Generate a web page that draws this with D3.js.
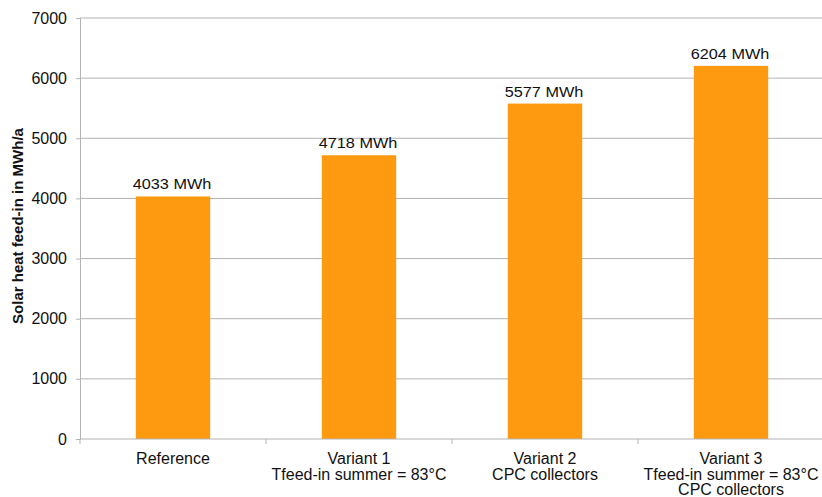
<!DOCTYPE html>
<html>
<head>
<meta charset="utf-8">
<script src="https://cdn.jsdelivr.net/npm/d3@7"></script>
<style>
  html, body { margin: 0; padding: 0; background: #fff; }
  svg { display: block; font-family: "Liberation Sans", Arial, sans-serif; }
</style>
</head>
<body>
<svg id="chart" width="822" height="497"></svg>
<script>
// Solar heat feed-in per scenario (MWh/a)
const categories = ["Reference", "Variant 1", "Variant 2", "Variant 3"];
const categoryLines = [
  ["Reference"],
  ["Variant 1", "Tfeed-in summer = 83°C"],
  ["Variant 2", "CPC collectors"],
  ["Variant 3", "Tfeed-in summer = 83°C", "CPC collectors"]
];
const values = [4033, 4718, 5577, 6204];
const yTicks = [0, 1000, 2000, 3000, 4000, 5000, 6000, 7000];
const yTitle = "Solar heat feed-in in MWh/a";
const unit = "MWh";

const svg = d3.select("#chart");
const plot = { left: 80, right: 824, top: 18, bottom: 439 };

const x = d3.scaleBand().domain(categories).range([plot.left, plot.right]).paddingInner(0.6).paddingOuter(0.3);
const xOuter = d3.scaleBand().domain(categories).range([plot.left, plot.right]);
const y = d3.scaleLinear().domain([0, 7000]).range([plot.bottom, plot.top]);

// horizontal gridlines
svg.append("g")
  .selectAll("line")
  .data(yTicks.filter(d => d > 0))
  .join("line")
  .attr("x1", plot.left).attr("x2", plot.right)
  .attr("y1", d => y(d)).attr("y2", d => y(d))
  .attr("stroke", "#b3b3b3").attr("stroke-width", 1);

// bars
svg.append("g")
  .selectAll("rect")
  .data(values)
  .join("rect")
  .attr("x", (d, i) => x(categories[i]))
  .attr("width", x.bandwidth())
  .attr("y", d => y(d))
  .attr("height", d => y(0) - y(d))
  .attr("fill", "#fd9a0f");

// value labels (slightly widened type)
svg.append("g")
  .selectAll("text")
  .data(values)
  .join("text")
  .attr("transform", (d, i) => `translate(${x(categories[i]) + x.bandwidth() / 2 - 1},${y(d) - 7}) scale(1.16,1)`)
  .attr("text-anchor", "middle")
  .attr("font-size", 14)
  .attr("fill", "#111")
  .text(d => `${d} ${unit}`);

// y axis
const yAxis = svg.append("g")
  .attr("transform", `translate(${plot.left},0)`)
  .call(d3.axisLeft(y).tickValues(yTicks).tickSize(4).tickPadding(9).tickFormat(d3.format("d")));
yAxis.select(".domain").attr("stroke", "#b3b3b3");
yAxis.selectAll(".tick line").attr("stroke", "#b3b3b3");
yAxis.selectAll(".tick text").attr("font-size", 16).attr("fill", "#111")
  .attr("font-family", "'Liberation Sans', Arial, sans-serif");

// x axis line and category separators
const xAxis = svg.append("g")
  .attr("transform", `translate(0,${plot.bottom})`);
xAxis.append("line")
  .attr("x1", plot.left).attr("x2", plot.right)
  .attr("stroke", "#b3b3b3");
xAxis.selectAll("line.sep")
  .data(categories)
  .join("line")
  .attr("class", "sep")
  .attr("x1", d => xOuter(d)).attr("x2", d => xOuter(d))
  .attr("y1", 0).attr("y2", 5)
  .attr("stroke", "#b3b3b3");

// multi-line category labels
const catLabels = svg.append("g")
  .selectAll("text")
  .data(categoryLines)
  .join("text")
  .attr("text-anchor", "middle")
  .attr("font-size", 16)
  .attr("fill", "#111");
catLabels.each(function(lines, i) {
  const cx = x(categories[i]) + x.bandwidth() / 2;
  d3.select(this).selectAll("tspan")
    .data(lines)
    .join("tspan")
    .attr("x", cx)
    .attr("y", (d, j) => 464 + j * 15.5)
    .text(d => d);
});

// y axis title
svg.append("text")
  .attr("transform", `translate(23,226) rotate(-90)`)
  .attr("text-anchor", "middle")
  .attr("font-size", 15)
  .attr("font-weight", "bold")
  .attr("fill", "#111")
  .text(yTitle);
</script>
</body>
</html>
